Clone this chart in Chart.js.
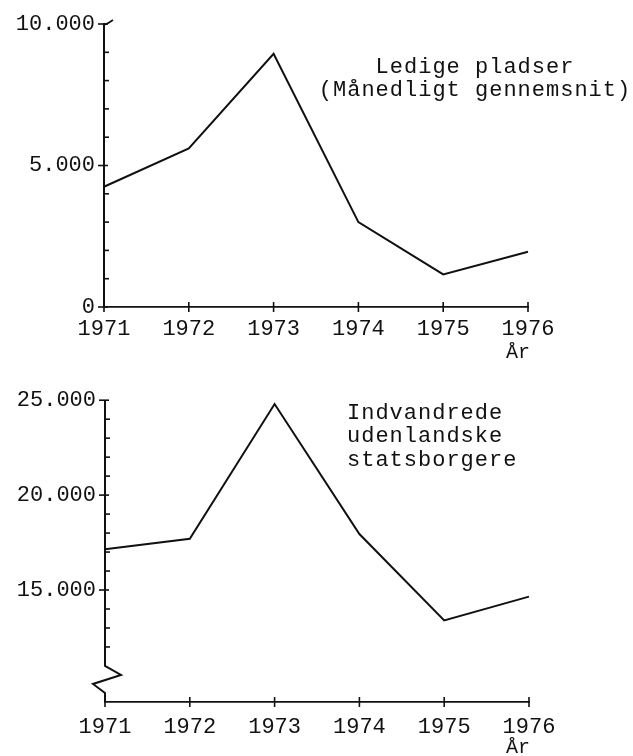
<!DOCTYPE html>
<html>
<head>
<meta charset="utf-8">
<script src="https://cdn.jsdelivr.net/npm/chart.js@4.4.1/dist/chart.umd.min.js"></script>
<style>
html, body { margin: 0; padding: 0; background: #fff; }
#wrap { position: relative; width: 633px; height: 756px; }
canvas { position: absolute; left: 0; }
#top { top: 0; }
#bottom { top: 378px; }
</style>
</head>
<body>
<div id="wrap">
  <canvas id="top" width="633" height="378"></canvas>
  <canvas id="bottom" width="633" height="378"></canvas>
</div>
<script>
// data
const years = ['1971', '1972', '1973', '1974', '1975', '1976'];
const ledigePladser = [4250, 5600, 8950, 3000, 1150, 1950];
const indvandrede = [17150, 17700, 24800, 17950, 13400, 14650];

const topMinor = [1000, 2000, 3000, 4000, 6000, 7000, 8000, 9000];
const topMajor = [0, 5000, 10000];
const bottomMinor = [12000, 13000, 14000, 16000, 17000, 18000, 19000, 21000, 22000, 23000, 24000];
const bottomMajor = [15000, 20000, 25000];

const topNote = ['Ledige pladser', '(Månedligt gennemsnit)'];
const bottomNote = ['Indvandrede', 'udenlandske', 'statsborgere'];
const yearUnit = 'År';

const INK = '#111';
const FONT = "'Liberation Mono', 'Courier New', monospace";

function fmt(v) {
    return String(v).replace(/\B(?=(\d{3})+(?!\d))/g, '.');
}

// tick marks, axis break, notes
const decor = {
    id: 'decor',
    afterDraw(chart, args, o) {
        const ctx = chart.ctx;
        const xs = chart.scales.x, ys = chart.scales.y;
        const ax = chart.chartArea.left, ay = chart.chartArea.bottom;
        const seg = (x1, y1, x2, y2) => { ctx.beginPath(); ctx.moveTo(x1, y1); ctx.lineTo(x2, y2); ctx.stroke(); };
        ctx.save();
        ctx.strokeStyle = INK;
        ctx.lineWidth = 1.6;
        o.minor.forEach(v => { const py = ys.getPixelForValue(v); seg(ax - 1, py, ax + 5, py); });
        o.major.forEach(v => { const py = ys.getPixelForValue(v); seg(ax - 6, py, ax + 4, py); });
        years.forEach((_, i) => { const px = xs.getPixelForValue(i); seg(px, ay - 5, px, ay + 5); });

        if (o.zigzag) {
            // y axis with a break near the bottom
            const pTop = ys.getPixelForValue(ys.max);
            const pb = ys.getPixelForValue(o.breakAt);
            ctx.lineWidth = 2;
            ctx.beginPath();
            ctx.moveTo(ax, pTop);
            ctx.lineTo(ax, pb);
            ctx.lineTo(ax + 16, pb + 9);
            ctx.lineTo(ax - 12, pb + 18);
            ctx.lineTo(ax, pb + 27);
            ctx.lineTo(ax, ay);
            ctx.stroke();
        } else {
            const pTop = ys.getPixelForValue(ys.max);
            ctx.lineWidth = 1.6;
            ctx.beginPath();
            ctx.moveTo(ax, pTop + 1);
            ctx.quadraticCurveTo(ax + 5, pTop - 1, ax + 9, pTop - 4);
            ctx.stroke();
        }

        ctx.fillStyle = INK;
        ctx.font = '22px ' + FONT;
        ctx.letterSpacing = '1px';
        ctx.textBaseline = 'middle';
        ctx.textAlign = o.noteAlign;
        o.note.forEach((t, i) => ctx.fillText(t, o.noteX, o.noteY + i * o.noteGap));

        ctx.letterSpacing = '0px';
        ctx.textAlign = 'left';
        ctx.font = '20px ' + FONT;
        ctx.fillText(yearUnit, o.unitX, o.unitY);
        ctx.restore();
    }
};

function makeChart(id, values, yMin, yMax, major, minor, deco, axisBottom, axisLeft, axisRight, axisTop, xPad) {
    const H = 378;
    return new Chart(document.getElementById(id), {
        type: 'line',
        data: {
            labels: years,
            datasets: [{
                data: values,
                borderColor: INK,
                borderWidth: 2,
                pointRadius: 0,
                tension: 0,
                fill: false
            }]
        },
        options: {
            responsive: false,
            animation: false,
            devicePixelRatio: 1,
            layout: { padding: { left: 0, right: 633 - axisRight, top: axisTop, bottom: 0 } },
            plugins: {
                legend: { display: false },
                tooltip: { enabled: false },
                decor: Object.assign({ major: major, minor: minor }, deco)
            },
            scales: {
                x: {
                    type: 'category',
                    offset: false,
                    grid: { display: false, drawTicks: false },
                    border: { display: true, color: INK, width: 1.8 },
                    ticks: {
                        color: INK,
                        font: { family: FONT, size: 22 },
                        padding: xPad,
                        maxRotation: 0,
                        autoSkip: false
                    },
                    afterFit(s) { s.height = H - axisBottom; }
                },
                y: {
                    min: yMin,
                    max: yMax,
                    grid: { display: false, drawTicks: false },
                    border: { display: !deco.zigzag, color: INK, width: 2 },
                    afterBuildTicks(s) { s.ticks = major.map(v => ({ value: v })); },
                    ticks: {
                        color: INK,
                        font: { family: FONT, size: 22 },
                        padding: 9,
                        callback: v => fmt(v)
                    },
                    afterFit(s) { s.width = axisLeft; }
                }
            }
        },
        plugins: [decor]
    });
}

makeChart('top', ledigePladser, 0, 10000, topMajor, topMinor,
    { zigzag: false, note: topNote, noteAlign: 'center', noteX: 475, noteY: 67, noteGap: 23, unitX: 506, unitY: 353 },
    307, 104, 528, 24, 9);

makeChart('bottom', indvandrede, 9100, 25000, bottomMajor, bottomMinor,
    { zigzag: true, breakAt: 11000, note: bottomNote, noteAlign: 'left', noteX: 347, noteY: 35, noteGap: 23.5, unitX: 506, unitY: 370 },
    324, 105, 529, 13, 12);
</script>
</body>
</html>
